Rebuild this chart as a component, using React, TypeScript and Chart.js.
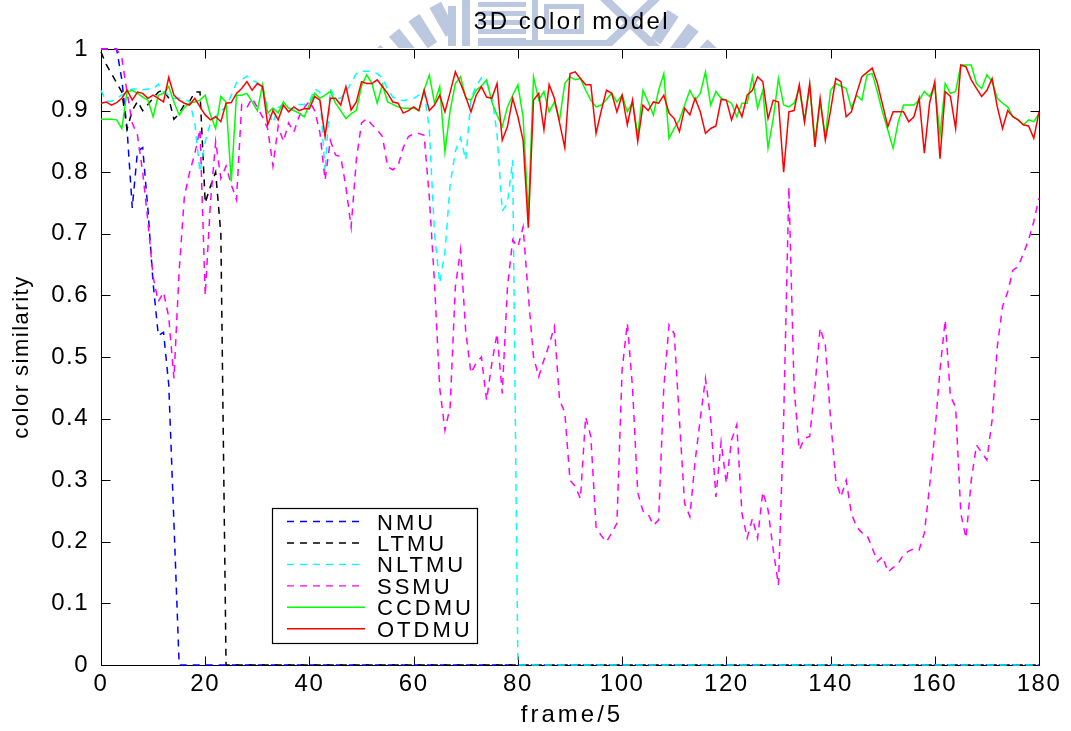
import React, { useEffect, useRef } from "react";
import { Chart, registerables } from "chart.js";

Chart.register(...registerables);

const FONT = "'Liberation Sans', Arial, Helvetica, sans-serif";

const TITLE = "3D color model";
const X_LABEL = "frame/5";
const Y_LABEL = "color similarity";

const X_TICKS = [0, 20, 40, 60, 80, 100, 120, 140, 160, 180];
const Y_TICKS = [0, 0.1, 0.2, 0.3, 0.4, 0.5, 0.6, 0.7, 0.8, 0.9, 1];
const Y_TICK_LABELS = ["0", "0.1", "0.2", "0.3", "0.4", "0.5", "0.6", "0.7", "0.8", "0.9", "1"];

const SERIES_NAMES = ["NMU", "LTMU", "NLTMU", "SSMU", "CCDMU", "OTDMU"];
const SERIES_COLORS = ["#0000ff", "#000000", "#00ffff", "#ff00ff", "#00ff00", "#ff0000"];
const SERIES_DASHED = [true, true, true, true, false, false];

// frames 0..180 for the full-length series
const FULL_FRAMES: number[] = Array.from({ length: 181 }, (_, i) => i);

const NMU_FRAMES = [0, 1, 2, 3, 4, 5, 6, 7, 8, 9, 10, 11, 12, 13, 14, 15, 180];
const NMU = [1, 1, 1, 1, 0.95, 0.87, 0.742, 0.834, 0.84, 0.74, 0.62, 0.535, 0.54, 0.455, 0.23, 0, 0];

const LTMU_FRAMES = [0, 1, 2, 3, 4, 5, 6, 7, 8, 9, 10, 11, 12, 13, 14, 15, 16, 17, 18, 19, 20, 21, 22, 23, 24, 180];
const LTMU = [
  0.995, 0.975, 0.96, 0.945, 0.93, 0.87, 0.9, 0.915, 0.9, 0.91,
  0.92, 0.93, 0.934, 0.92, 0.886, 0.895, 0.91, 0.915, 0.93, 0.93,
  0.75, 0.777, 0.8, 0.7, 0, 0,
];

const NLTMU_FRAMES = [
  0, 1, 2, 3, 4, 5, 6, 7, 8, 9, 10, 11, 12, 13, 14, 15, 16, 17, 18, 19,
  20, 21, 22, 23, 24, 25, 26, 27, 28, 29, 30, 31, 32, 33, 34, 35, 36, 37, 38, 39,
  40, 41, 42, 43, 44, 45, 46, 47, 48, 49, 50, 51, 52, 53, 54, 55, 56, 57, 58, 59,
  60, 61, 62, 63, 64, 65, 66, 67, 68, 69, 70, 71, 72, 73, 74, 75, 76, 77, 78, 79,
  80, 180,
];
const NLTMU = [
  0.933, 0.915, 0.915, 0.92, 0.925, 0.93, 0.935, 0.935, 0.934, 0.935,
  0.935, 0.943, 0.93, 0.925, 0.92, 0.92, 0.918, 0.915, 0.88, 0.8,
  0.85, 0.88, 0.89, 0.9, 0.905, 0.925, 0.945, 0.95, 0.956, 0.95,
  0.945, 0.94, 0.9, 0.88, 0.905, 0.91, 0.905, 0.9, 0.91, 0.91,
  0.915, 0.935, 0.93, 0.8, 0.935, 0.92, 0.92, 0.93, 0.945, 0.96,
  0.964, 0.964, 0.964, 0.96, 0.953, 0.935, 0.922, 0.918, 0.916, 0.918,
  0.92, 0.925, 0.932, 0.87, 0.7, 0.62, 0.67, 0.78, 0.834, 0.856,
  0.82, 0.92, 0.94, 0.953, 0.945, 0.926, 0.861, 0.737, 0.75, 0.82,
  0, 0,
];

const SSMU = [
  1.0, 1.0, 1.0, 1.0, 0.985, 0.93, 0.88, 0.86, 0.8, 0.72,
  0.63, 0.59, 0.605, 0.565, 0.465, 0.64, 0.76, 0.8, 0.83, 0.87,
  0.6, 0.75, 0.85, 0.79, 0.81, 0.78, 0.755, 0.91, 0.905, 0.92,
  0.905, 0.89, 0.87, 0.81, 0.875, 0.85, 0.88, 0.865, 0.89, 0.905,
  0.915, 0.9, 0.865, 0.787, 0.852, 0.828, 0.825, 0.776, 0.711, 0.82,
  0.88, 0.887, 0.877, 0.869, 0.858, 0.809, 0.804, 0.81, 0.84, 0.858,
  0.862, 0.863, 0.86, 0.76, 0.62, 0.45, 0.381, 0.419, 0.614, 0.674,
  0.54, 0.474, 0.49, 0.5, 0.43, 0.49, 0.538, 0.441, 0.614, 0.69,
  0.679, 0.711, 0.6, 0.5, 0.468, 0.495, 0.52, 0.549, 0.43, 0.41,
  0.3, 0.29, 0.27, 0.403, 0.371, 0.224, 0.21, 0.2, 0.214, 0.23,
  0.479, 0.555, 0.45, 0.28, 0.25, 0.245, 0.227, 0.235, 0.45, 0.552,
  0.538, 0.398, 0.262, 0.241, 0.33, 0.4, 0.465, 0.398, 0.273, 0.362,
  0.295, 0.365, 0.39, 0.246, 0.206, 0.238, 0.206, 0.281, 0.252, 0.187,
  0.13, 0.398, 0.776, 0.45, 0.349, 0.368, 0.371, 0.452, 0.547, 0.519,
  0.4, 0.3, 0.273, 0.3, 0.246, 0.224, 0.215, 0.211, 0.19, 0.168,
  0.176, 0.151, 0.158, 0.165, 0.179, 0.185, 0.189, 0.187, 0.214, 0.29,
  0.376, 0.479, 0.56, 0.436, 0.419, 0.246, 0.206, 0.3, 0.357, 0.345,
  0.333, 0.398, 0.517, 0.582, 0.606, 0.641, 0.647, 0.668, 0.69, 0.72,
  0.758,
];

const CCDMU = [
  0.886, 0.886, 0.886, 0.885, 0.871, 0.931, 0.933, 0.928, 0.922, 0.917,
  0.89, 0.925, 0.928, 0.939, 0.914, 0.893, 0.905, 0.912, 0.914, 0.917,
  0.925, 0.893, 0.871, 0.923, 0.914, 0.785, 0.925, 0.925, 0.928, 0.914,
  0.9, 0.942, 0.896, 0.904, 0.896, 0.914, 0.904, 0.9, 0.896, 0.89,
  0.91, 0.928, 0.92, 0.925, 0.931, 0.912, 0.9, 0.887, 0.895, 0.9,
  0.94, 0.958, 0.944, 0.912, 0.942, 0.914, 0.91, 0.906, 0.904, 0.904,
  0.904, 0.9, 0.933, 0.958, 0.912, 0.939, 0.833, 0.9, 0.944, 0.955,
  0.92, 0.917, 0.933, 0.94, 0.95, 0.914, 0.893, 0.874, 0.906, 0.925,
  0.942, 0.89, 0.73, 0.955, 0.917, 0.931, 0.898, 0.914, 0.885, 0.944,
  0.955, 0.95, 0.952, 0.933, 0.917, 0.906, 0.909, 0.918, 0.928, 0.914,
  0.925, 0.898, 0.914, 0.86, 0.933, 0.914, 0.893, 0.933, 0.96, 0.855,
  0.871, 0.885, 0.909, 0.933, 0.917, 0.928, 0.963, 0.909, 0.931, 0.92,
  0.917, 0.912, 0.89, 0.912, 0.912, 0.955, 0.904, 0.933, 0.839, 0.887,
  0.952, 0.909, 0.906, 0.912, 0.936, 0.882, 0.939, 0.852, 0.914, 0.858,
  0.933, 0.944, 0.94, 0.936, 0.904, 0.925, 0.917, 0.958, 0.96, 0.93,
  0.896, 0.868, 0.839, 0.882, 0.909, 0.909, 0.909, 0.917, 0.931, 0.923,
  0.939, 0.86, 0.944, 0.928, 0.931, 0.974, 0.974, 0.974, 0.944, 0.936,
  0.958, 0.947, 0.92, 0.912, 0.906, 0.89, 0.885, 0.877, 0.885, 0.882,
  0.895,
];

const OTDMU = [
  0.912, 0.914, 0.909, 0.913, 0.92, 0.933, 0.917, 0.93, 0.928, 0.92,
  0.925, 0.92, 0.914, 0.954, 0.925, 0.917, 0.912, 0.909, 0.92, 0.906,
  0.893, 0.885, 0.89, 0.882, 0.912, 0.913, 0.928, 0.936, 0.947, 0.933,
  0.944, 0.939, 0.877, 0.9, 0.885, 0.909, 0.898, 0.906, 0.9, 0.903,
  0.903, 0.923, 0.917, 0.858, 0.92, 0.92, 0.909, 0.939, 0.901, 0.914,
  0.947, 0.944, 0.944, 0.95, 0.939, 0.928, 0.914, 0.912, 0.896, 0.9,
  0.906, 0.9, 0.933, 0.9, 0.909, 0.925, 0.898, 0.93, 0.963, 0.944,
  0.922, 0.898, 0.925, 0.939, 0.922, 0.92, 0.944, 0.852, 0.874, 0.92,
  0.89, 0.852, 0.71, 0.917, 0.928, 0.869, 0.942, 0.92, 0.88, 0.84,
  0.96, 0.963, 0.952, 0.942, 0.942, 0.863, 0.9, 0.933, 0.928, 0.898,
  0.925, 0.877, 0.917, 0.85, 0.909, 0.9, 0.914, 0.912, 0.925, 0.896,
  0.887, 0.866, 0.904, 0.893, 0.92, 0.898, 0.863, 0.871, 0.875, 0.918,
  0.917, 0.885, 0.909, 0.89, 0.925, 0.933, 0.955, 0.947, 0.887, 0.917,
  0.914, 0.8, 0.898, 0.9, 0.942, 0.882, 0.944, 0.841, 0.92, 0.852,
  0.9, 0.952, 0.947, 0.89, 0.898, 0.928, 0.955, 0.962, 0.969, 0.944,
  0.909, 0.874, 0.898, 0.898, 0.898, 0.882, 0.89, 0.92, 0.831, 0.912,
  0.947, 0.822, 0.931, 0.923, 0.871, 0.974, 0.971, 0.95, 0.936, 0.923,
  0.933, 0.952, 0.906, 0.871, 0.9, 0.89, 0.885, 0.877, 0.875, 0.855,
  0.898,
];

const SERIES_FRAMES = [NMU_FRAMES, LTMU_FRAMES, NLTMU_FRAMES, FULL_FRAMES, FULL_FRAMES, FULL_FRAMES];
const SERIES_VALUES = [NMU, LTMU, NLTMU, SSMU, CCDMU, OTDMU];

const DASH = [7, 6];
const TICK_LEN = 9;
const WATERMARK = "#bcc7e0";

function drawWatermark(ctx: CanvasRenderingContext2D) {
  ctx.save();
  ctx.beginPath();
  ctx.rect(0, 0, 1071, 48);
  ctx.clip();
  ctx.fillStyle = WATERMARK;
  // outer ring segments of the emblem (only its top shows above the axes)
  const cx = 547;
  const cy = 215;
  for (let deg = -160; deg <= -20; deg += 6) {
    const a0 = ((deg - 1.6) * Math.PI) / 180;
    const a1 = ((deg + 1.6) * Math.PI) / 180;
    const xm = cx + 230 * Math.cos((deg * Math.PI) / 180);
    if (xm > 440 && xm < 655) continue;
    ctx.beginPath();
    ctx.arc(cx, cy, 238, a0, a1);
    ctx.arc(cx, cy, 205, a1, a0, true);
    ctx.closePath();
    ctx.fill();
  }
  // inner building-like blocks
  ctx.fillRect(448, 6, 8, 40);
  ctx.fillRect(462, 0, 8, 46);
  for (let i = 0; i < 5; i++) ctx.fillRect(478, 2 + i * 9, 48, 5);
  ctx.fillRect(532, 0, 6, 46);
  ctx.fillRect(544, 4, 40, 5);
  ctx.fillRect(544, 4, 5, 30);
  ctx.fillRect(579, 4, 5, 30);
  ctx.fillRect(544, 29, 40, 5);
  ctx.fillRect(478, 40, 130, 6);
  ctx.beginPath();
  ctx.moveTo(600, 0);
  ctx.lineTo(612, 0);
  ctx.lineTo(660, 46);
  ctx.lineTo(648, 46);
  ctx.closePath();
  ctx.fill();
  ctx.beginPath();
  ctx.moveTo(648, 0);
  ctx.lineTo(660, 0);
  ctx.lineTo(612, 46);
  ctx.lineTo(600, 46);
  ctx.closePath();
  ctx.fill();
  ctx.restore();
}

const framePlugin = {
  id: "matlabFrame",
  beforeDraw(chart: any) {
    const ctx = chart.ctx;
    ctx.save();
    ctx.fillStyle = "#ffffff";
    ctx.fillRect(0, 0, chart.width, chart.height);
    ctx.restore();
    drawWatermark(ctx);
    (ctx as any).letterSpacing = "1.5px";
  },
  beforeDatasetsDraw(chart: any) {
    const { ctx, chartArea: a, scales } = chart;
    (ctx as any).letterSpacing = "0px";
    const xs = scales.x;
    const ys = scales.y;
    ctx.save();
    ctx.strokeStyle = "#000000";
    ctx.lineWidth = 1;
    ctx.setLineDash([]);
    const L = Math.round(a.left) + 0.5;
    const R = Math.round(a.right) + 0.5;
    const T = Math.round(a.top) + 0.5;
    const B = Math.round(a.bottom) + 0.5;
    ctx.strokeRect(L, T, R - L, B - T);
    ctx.beginPath();
    for (const v of X_TICKS) {
      const px = Math.round(xs.getPixelForValue(v)) + 0.5;
      ctx.moveTo(px, B);
      ctx.lineTo(px, B - TICK_LEN);
      ctx.moveTo(px, T);
      ctx.lineTo(px, T + TICK_LEN);
    }
    for (const v of Y_TICKS) {
      const py = Math.round(ys.getPixelForValue(v)) + 0.5;
      ctx.moveTo(L, py);
      ctx.lineTo(L + TICK_LEN, py);
      ctx.moveTo(R, py);
      ctx.lineTo(R - TICK_LEN, py);
    }
    ctx.stroke();
    ctx.restore();
  },
  afterDatasetsDraw(chart: any) {
    const { ctx } = chart;
    const bx = 272.5, by = 508.5, bw = 205, bh = 135;
    ctx.save();
    ctx.fillStyle = "#ffffff";
    ctx.fillRect(bx, by, bw, bh);
    ctx.strokeStyle = "#000000";
    ctx.lineWidth = 1.2;
    ctx.setLineDash([]);
    ctx.strokeRect(bx, by, bw, bh);
    SERIES_NAMES.forEach((name, i) => {
      const y = 521.5 + i * 21.45;
      ctx.beginPath();
      ctx.strokeStyle = SERIES_COLORS[i];
      ctx.lineWidth = 1.4;
      ctx.setLineDash(SERIES_DASHED[i] ? DASH : []);
      ctx.moveTo(287, y);
      ctx.lineTo(365, y);
      ctx.stroke();
      ctx.setLineDash([]);
      ctx.fillStyle = "#000000";
      ctx.font = `22px ${FONT}`;
      (ctx as any).letterSpacing = "3px";
      ctx.textAlign = "left";
      ctx.textBaseline = "alphabetic";
      ctx.fillText(name, 377, y + 8);
      (ctx as any).letterSpacing = "0px";
    });
    ctx.restore();
  },
  afterDraw(chart: any) {
    const { ctx, chartArea: a } = chart;
    const cx = (a.left + a.right) / 2;
    const cy = (a.top + a.bottom) / 2;
    ctx.save();
    ctx.fillStyle = "#000000";
    ctx.textAlign = "center";
    ctx.textBaseline = "alphabetic";
    ctx.font = `24px ${FONT}`;
    (ctx as any).letterSpacing = "2.5px";
    ctx.fillText(TITLE, cx + 2, 29);
    (ctx as any).letterSpacing = "3px";
    ctx.fillText(X_LABEL, cx + 2, 722);
    ctx.font = `22px ${FONT}`;
    (ctx as any).letterSpacing = "1.5px";
    ctx.translate(28, cy);
    ctx.rotate(-Math.PI / 2);
    ctx.fillText(Y_LABEL, 0, 0);
    (ctx as any).letterSpacing = "0px";
    ctx.restore();
  },
};

export default function App() {
  const canvasRef = useRef<HTMLCanvasElement | null>(null);

  useEffect(() => {
    document.body.style.margin = "0";
    const canvas = canvasRef.current;
    if (!canvas) return;
    const datasets = SERIES_NAMES.map((name, i) => ({
      label: name,
      data: SERIES_VALUES[i].map((v, j) => ({ x: SERIES_FRAMES[i][j], y: v })),
      borderColor: SERIES_COLORS[i],
      backgroundColor: SERIES_COLORS[i],
      borderWidth: 1.5,
      borderDash: SERIES_DASHED[i] ? DASH : [],
      pointRadius: 0,
      tension: 0,
      fill: false,
      clip: false as any,
      order: SERIES_NAMES.length - i,
    }));
    const chart = new Chart(canvas, {
      type: "line",
      data: { datasets },
      options: {
        animation: false,
        responsive: false,
        devicePixelRatio: 1,
        parsing: false as any,
        normalized: true,
        layout: { padding: { left: 0, right: 32, top: 49, bottom: 0 } },
        plugins: {
          legend: { display: false },
          title: { display: false },
          tooltip: { enabled: false },
        },
        scales: {
          x: {
            type: "linear",
            min: 0,
            max: 180,
            grid: { display: false, drawTicks: false },
            border: { display: false },
            afterBuildTicks: (s: any) => {
              s.ticks = X_TICKS.map((v) => ({ value: v }));
            },
            afterFit: (s: any) => {
              s.height = 66;
            },
            ticks: {
              color: "#000000",
              font: { family: FONT, size: 24 },
              padding: 5,
              maxRotation: 0,
              autoSkip: false,
              callback: (v: any) => String(v),
            },
          },
          y: {
            type: "linear",
            min: 0,
            max: 1,
            grid: { display: false, drawTicks: false },
            border: { display: false },
            afterBuildTicks: (s: any) => {
              s.ticks = Y_TICKS.map((v) => ({ value: v }));
            },
            afterFit: (s: any) => {
              s.width = 101;
            },
            ticks: {
              color: "#000000",
              font: { family: FONT, size: 24 },
              padding: 12,
              autoSkip: false,
              callback: (v: any) => {
                const k = Y_TICKS.findIndex((t) => Math.abs(t - Number(v)) < 1e-6);
                return k >= 0 ? Y_TICK_LABELS[k] : "";
              },
            },
          },
        },
      },
      plugins: [framePlugin],
    });
    return () => chart.destroy();
  }, []);

  return (
    <div style={{ width: 1071, height: 731, overflow: "hidden", background: "#ffffff" }}>
      <canvas ref={canvasRef} width={1071} height={731} style={{ display: "block", width: 1071, height: 731 }} />
    </div>
  );
}
